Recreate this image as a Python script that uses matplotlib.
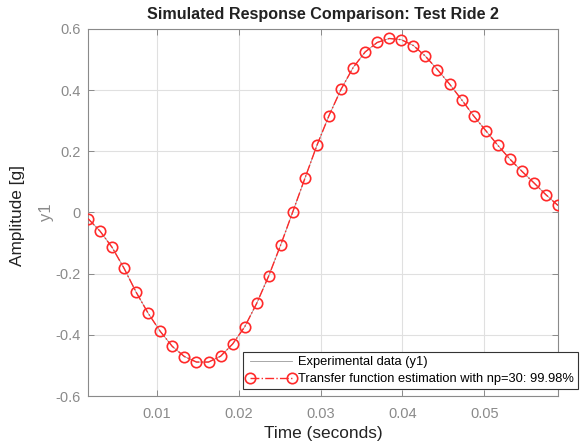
import numpy as np
import matplotlib
matplotlib.use('Agg')
import matplotlib.pyplot as plt
from matplotlib.ticker import FuncFormatter

plt.rcParams['font.family'] = ['Liberation Sans', 'DejaVu Sans']

# Sampling of the response (s)
t_start = 0.00157
dt = 0.001473
n_samples = 40
t = t_start + dt*np.arange(n_samples)

# Simulated response (g)
y_sim = [-0.020, -0.061, -0.114, -0.183, -0.261, -0.330, -0.389, -0.438,
         -0.471, -0.489, -0.489, -0.470, -0.430, -0.374, -0.297, -0.207,
         -0.105, 0.003, 0.112, 0.220, 0.317, 0.403, 0.474, 0.525,
         0.556, 0.569, 0.565, 0.546, 0.511, 0.467, 0.420, 0.369,
         0.316, 0.268, 0.220, 0.175, 0.135, 0.097, 0.058, 0.023]
# Experimental data (fit 99.98%, practically identical)
y_exp = [-0.020, -0.061, -0.114, -0.183, -0.261, -0.330, -0.389, -0.438,
         -0.471, -0.489, -0.489, -0.470, -0.430, -0.374, -0.297, -0.207,
         -0.105, 0.003, 0.112, 0.220, 0.317, 0.403, 0.474, 0.525,
         0.556, 0.569, 0.565, 0.546, 0.511, 0.467, 0.420, 0.369,
         0.316, 0.268, 0.220, 0.175, 0.135, 0.097, 0.058, 0.023]

xticks = [0.01, 0.02, 0.03, 0.04, 0.05]
yticks = [-0.6, -0.4, -0.2, 0.0, 0.2, 0.4, 0.6]

W, H = 582, 448
fig = plt.figure(figsize=(W/100, H/100), dpi=100)
ax = fig.add_axes([88/W, 1-396/H, 470/W, 367/H])

ax.plot(t, y_exp, color='#9a9a9a', lw=0.6, label='Experimental data (y1)', zorder=2)
ax.plot(t, y_sim, color='#ff2a2a', lw=1.0, ls='-.', marker='o', ms=7.5,
        mfc='none', mec='#ff2a2a', mew=1.2,
        label='Transfer function estimation with np=30: 99.98%', zorder=3)

ax.set_xlim(t[0], t[-1])
ax.set_ylim(-0.6, 0.6)
ax.set_xticks(xticks)
ax.set_yticks(yticks)
ax.xaxis.set_major_formatter(FuncFormatter(lambda v, p: ('%g' % v)))
ax.yaxis.set_major_formatter(FuncFormatter(lambda v, p: ('%g' % round(v, 1))))

ax.grid(True, color='#e0e0e0', lw=0.8)
ax.set_axisbelow(True)
ax.tick_params(direction='in', top=True, right=True, length=4, width=0.7,
               colors='#8a8a8a', labelsize=10.5, labelcolor='#8a8a8a')
ax.tick_params(axis='x', pad=8)
ax.tick_params(axis='y', pad=5)
for s in ax.spines.values():
    s.set_color('#8a8a8a')
    s.set_linewidth(0.8)

ax.set_ylabel('y1', color='#8a8a8a', fontsize=12)
ax.yaxis.label.set_va('center')
ax.yaxis.set_label_coords(-0.088, 0.5)
ax.set_xlabel('Time (seconds)', fontsize=12.4, color='#222222')
ax.xaxis.set_label_coords(0.5, -0.101)
ax.xaxis.label.set_va('center')

fig.text(18/W, 1-215/H, 'Amplitude [g]', rotation=90, fontsize=12.4,
         color='#222222', ha='center', va='center')
fig.text(323/W, 1-14/H, 'Simulated Response Comparison: Test Ride 2',
         fontsize=11.6, fontweight='bold', color='#222222', ha='center', va='center')

leg = ax.legend(loc='lower right', bbox_to_anchor=(578/W, 1-389/H),
                bbox_transform=fig.transFigure, borderaxespad=0,
                fontsize=9.3, handlelength=3.8, handletextpad=0.2, numpoints=2,
                fancybox=False, framealpha=1, edgecolor='#333333',
                borderpad=0.3, labelspacing=0.38)
leg.get_frame().set_linewidth(0.8)

fig.savefig('out.png', dpi=100)
